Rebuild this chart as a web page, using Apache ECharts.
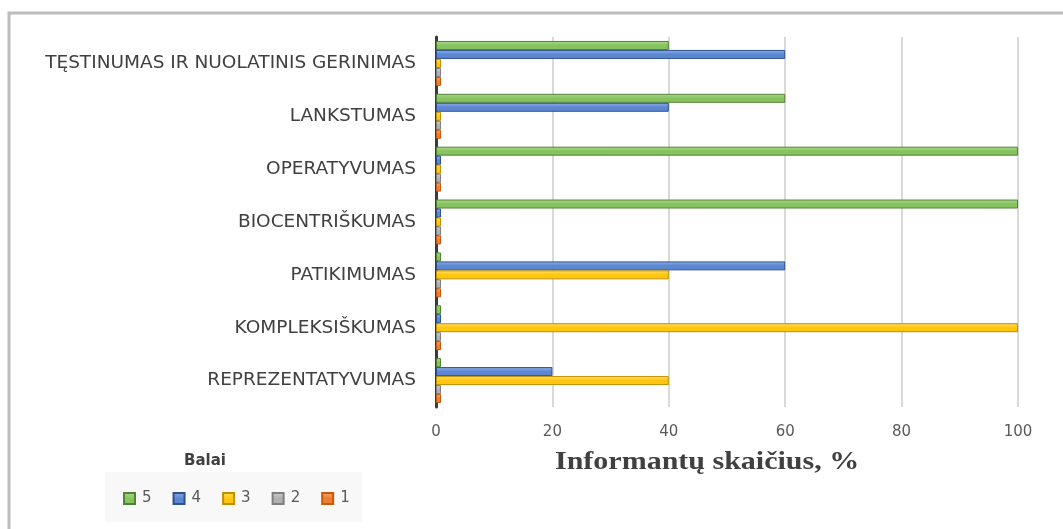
<!DOCTYPE html>
<html>
<head>
<meta charset="utf-8">
<script src="https://cdn.jsdelivr.net/npm/echarts@6/dist/echarts.min.js"></script>
<style>
  html, body { margin: 0; padding: 0; background: #ffffff; }
  #main { width: 1063px; height: 529px; }
</style>
</head>
<body>
<div id="main"></div>
<script>
// kategorijos, iš viršaus į apačią
var categories = ['TĘSTINUMAS IR NUOLATINIS GERINIMAS', 'LANKSTUMAS', 'OPERATYVUMAS',
  'BIOCENTRIŠKUMAS', 'PATIKIMUMAS', 'KOMPLEKSIŠKUMAS', 'REPREZENTATYVUMAS'];
var balai5 = [40, 60, 100, 100, 0, 0, 0];
var balai4 = [60, 40, 0, 0, 60, 0, 20];
var balai3 = [0, 0, 0, 0, 40, 100, 40];
var balai2 = [0, 0, 0, 0, 0, 0, 0];
var balai1 = [0, 0, 0, 0, 0, 0, 0];
var xTicks = [0, 20, 40, 60, 80, 100];

var chart = echarts.init(document.getElementById('main'));

function barStyle(light, base, dark) {
  return {
    color: new echarts.graphic.LinearGradient(0, 0, 0, 1, [
      { offset: 0, color: light },
      { offset: 0.5, color: base },
      { offset: 1, color: base }
    ]),
    borderColor: dark,
    borderWidth: 1
  };
}

function mk(name, data, st) {
  return {
    name: name,
    type: 'bar',
    data: data,
    barGap: '0%',
    barCategoryGap: '15%',
    barMinHeight: 5,
    itemStyle: st
  };
}

var option = {
  backgroundColor: '#ffffff',
  animation: false,
  grid: { left: 436, right: 45, top: 37, bottom: 122 },
  legend: {
    left: 118,
    top: 486,
    itemWidth: 11,
    itemHeight: 11,
    itemGap: 21,
    icon: 'rect',
    data: ['5', '4', '3', '2', '1'],
    textStyle: { fontFamily: 'DejaVu Sans', fontSize: 15, color: '#595959', padding: [0, 0, 0, 2] }
  },
  xAxis: {
    type: 'value',
    min: 0,
    max: 100,
    interval: 20,
    axisLine: { show: false },
    axisTick: { show: false },
    axisLabel: {
      margin: 18,
      color: '#595959',
      fontFamily: 'DejaVu Sans',
      fontSize: 15,
      formatter: function (v) { return xTicks.indexOf(v) >= 0 ? String(v) : ''; }
    },
    splitLine: { show: true, lineStyle: { color: '#d9d9d9', width: 2 } }
  },
  yAxis: {
    type: 'category',
    inverse: true,
    data: categories,
    axisTick: { show: false },
    axisLine: { show: true, lineStyle: { color: '#3a3a3a', width: 3 } },
    axisLabel: {
      margin: 20,
      color: '#404040',
      fontFamily: 'DejaVu Sans',
      fontSize: 18.5,
      padding: [7, 0, 0, 0]
    }
  },
  series: [
    mk('5', balai5, barStyle('#a9dc8a', '#86c35e', '#548235')),
    mk('4', balai4, barStyle('#8fb0e6', '#5b86d2', '#2f528f')),
    mk('3', balai3, barStyle('#ffe066', '#ffc50f', '#bf9000')),
    mk('2', balai2, barStyle('#cfcfcf', '#b0b0b0', '#7f7f7f')),
    mk('1', balai1, barStyle('#f5a66e', '#ed7d31', '#c55a11'))
  ],
  graphic: [
    {
      type: 'polyline',
      shape: { points: [[9, 529], [9, 13], [1063, 13]] },
      style: { stroke: '#bcbcbc', lineWidth: 3, fill: null },
      silent: true
    },
    {
      type: 'rect',
      shape: { x: 105, y: 472, width: 257, height: 50 },
      style: { fill: '#f8f8f8' },
      z: -1,
      silent: true
    },
    {
      type: 'text',
      x: 184,
      y: 454,
      style: { text: 'Balai', fontFamily: 'DejaVu Sans', fontWeight: 'bold', fontSize: 15, fill: '#404040' }
    },
    {
      type: 'text',
      x: 555,
      y: 450,
      scaleX: 1.2,
      style: {
        text: 'Informantų skaičius, %',
        fontFamily: 'Liberation Serif',
        fontWeight: 'bold',
        fontSize: 25,
        fill: '#404040'
      }
    }
  ]
};

chart.setOption(option);
</script>
</body>
</html>
